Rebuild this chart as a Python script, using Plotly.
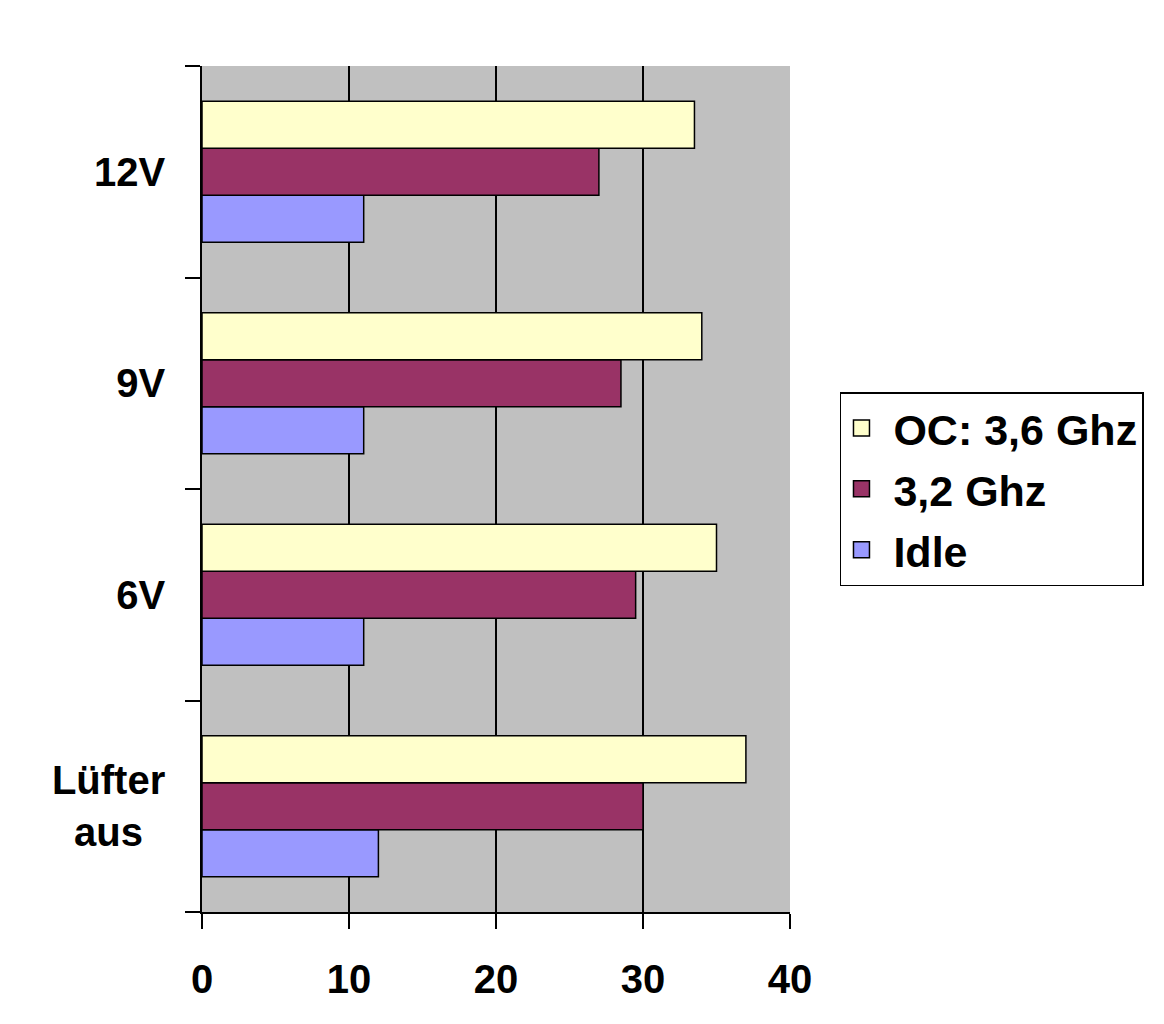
import plotly.graph_objects as go

categories = ["Lüfter<br>aus\u00a0\u00a0", "6V", "9V", "12V"]
series_names = ["Idle", "3,2 Ghz", "OC: 3,6 Ghz"]
idle = [12, 11, 11, 11]
ghz32 = [30, 29.5, 28.5, 27]
oc36 = [37, 35, 34, 33.5]
colors = ["#9999FF", "#993366", "#FFFFCC"]
legend_rank = [3, 2, 1]
x_ticks = [0, 10, 20, 30, 40]

FONT = "Liberation Sans, Arial, sans-serif"

fig = go.Figure()
for i, (name, vals) in enumerate(zip(series_names, [idle, ghz32, oc36])):
    fig.add_trace(go.Bar(
        y=categories, x=vals, name=name, orientation="h",
        marker=dict(color=colors[i], line=dict(color="black", width=1.5)),
        showlegend=False,
    ))
    # legend-only entry with a larger square swatch
    fig.add_trace(go.Scatter(
        x=[None], y=[None], mode="markers", name="\u00a0" + name,
        marker=dict(symbol="square", size=24, color=colors[i],
                    line=dict(color="black", width=1.5)),
        legendgroup=f"g{i}", legendrank=legend_rank[i], showlegend=True,
    ))

fig.update_layout(
    width=1164, height=1024,
    barmode="group", bargap=1/3, bargroupgap=0,
    plot_bgcolor="#C0C0C0", paper_bgcolor="white",
    margin=dict(l=202, r=374, t=66, b=112),
    font=dict(family=FONT, size=40, color="black"),
    legend=dict(
        x=1.085, xanchor="left", y=0.5, yanchor="middle",
        traceorder="grouped", tracegroupgap=2, itemsizing="trace",
        bordercolor="black", borderwidth=1.5, bgcolor="white",
        font=dict(family=FONT, size=43, color="black", weight="bold"),
    ),
    showlegend=True,
)
fig.update_xaxes(
    range=[0, 40], tickvals=x_ticks, ticktext=[str(v) for v in x_ticks],
    showgrid=True, gridcolor="black", gridwidth=1.5,
    ticks="outside", ticklen=15, tickwidth=1.5, tickcolor="black",
    showline=True, linecolor="black", linewidth=1.5,
    tickfont=dict(family=FONT, size=40, color="black", weight="bold"),
    ticklabelstandoff=16, zeroline=False,
)
fig.update_yaxes(
    type="category", tickson="boundaries",
    ticks="outside", ticklen=15, tickwidth=1.5, tickcolor="black",
    showline=True, linecolor="black", linewidth=1.5,
    showgrid=False,
    tickfont=dict(family=FONT, size=40, color="black", weight="bold"),
    ticklabelstandoff=27,
)

fig.write_html("out.html")
